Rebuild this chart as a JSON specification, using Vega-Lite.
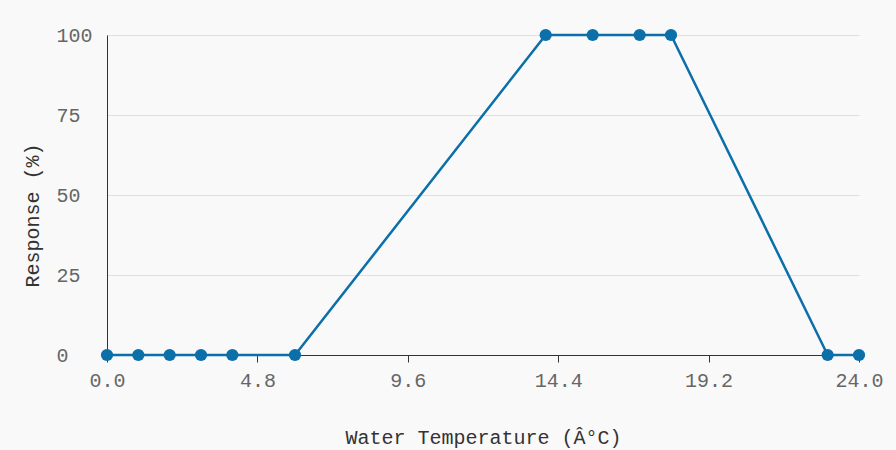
{
  "$schema": "https://vega.github.io/schema/vega-lite/v6.json",
  "autosize": {"type": "none"},
  "width": 752,
  "height": 320,
  "padding": {"left": 107, "top": 35, "right": 37, "bottom": 95},
  "background": "#f9f9f9",
  "config": {
    "view": {"stroke": null},
    "font": "Liberation Mono"
  },
  "data": {
    "values": [
      {"t": 0, "r": 0},
      {"t": 1, "r": 0},
      {"t": 2, "r": 0},
      {"t": 3, "r": 0},
      {"t": 4, "r": 0},
      {"t": 6, "r": 0},
      {"t": 14, "r": 100},
      {"t": 15.5, "r": 100},
      {"t": 17, "r": 100},
      {"t": 18, "r": 100},
      {"t": 23, "r": 0},
      {"t": 24, "r": 0}
    ]
  },
  "mark": {"type": "line", "color": "#0b6fa9", "strokeWidth": 2.5, "point": {"filled": true, "size": 150, "color": "#0b6fa9", "opacity": 1}},
  "encoding": {
    "x": {
      "field": "t", "type": "quantitative",
      "scale": {"domain": [0, 24], "nice": false, "zero": false},
      "axis": {
        "values": [0, 4.8, 9.6, 14.4, 19.2, 24],
        "format": ".1f",
        "grid": false,
        "labelFlush": false,
        "labelOverlap": false,
        "title": "Water Temperature (Â°C)",
        "domainColor": "#333",
        "tickColor": "#333",
        "tickSize": 7,
        "labelPadding": 8,
        "labelFontSize": 20,
        "labelColor": "#666",
        "titleFontSize": 20,
        "titleFontWeight": "normal",
        "titleColor": "#333",
        "titleBaseline": "alphabetic",
        "titleY": 88
      }
    },
    "y": {
      "field": "r", "type": "quantitative",
      "scale": {"domain": [0, 100], "nice": false},
      "axis": {
        "values": [0, 25, 50, 75, 100],
        "grid": true,
        "gridColor": "#e0e0e0",
        "ticks": false,
        "title": "Response (%)",
        "domainColor": "#333",
        "labelAlign": "left",
        "labelPadding": 51,
        "labelFontSize": 20,
        "labelColor": "#666",
        "titleFontSize": 20,
        "titleFontWeight": "normal",
        "titleColor": "#333",
        "titleAngle": -90,
        "titleAlign": "center",
        "titleBaseline": "alphabetic",
        "titleX": -69,
        "titleY": 180
      }
    }
  }
}
